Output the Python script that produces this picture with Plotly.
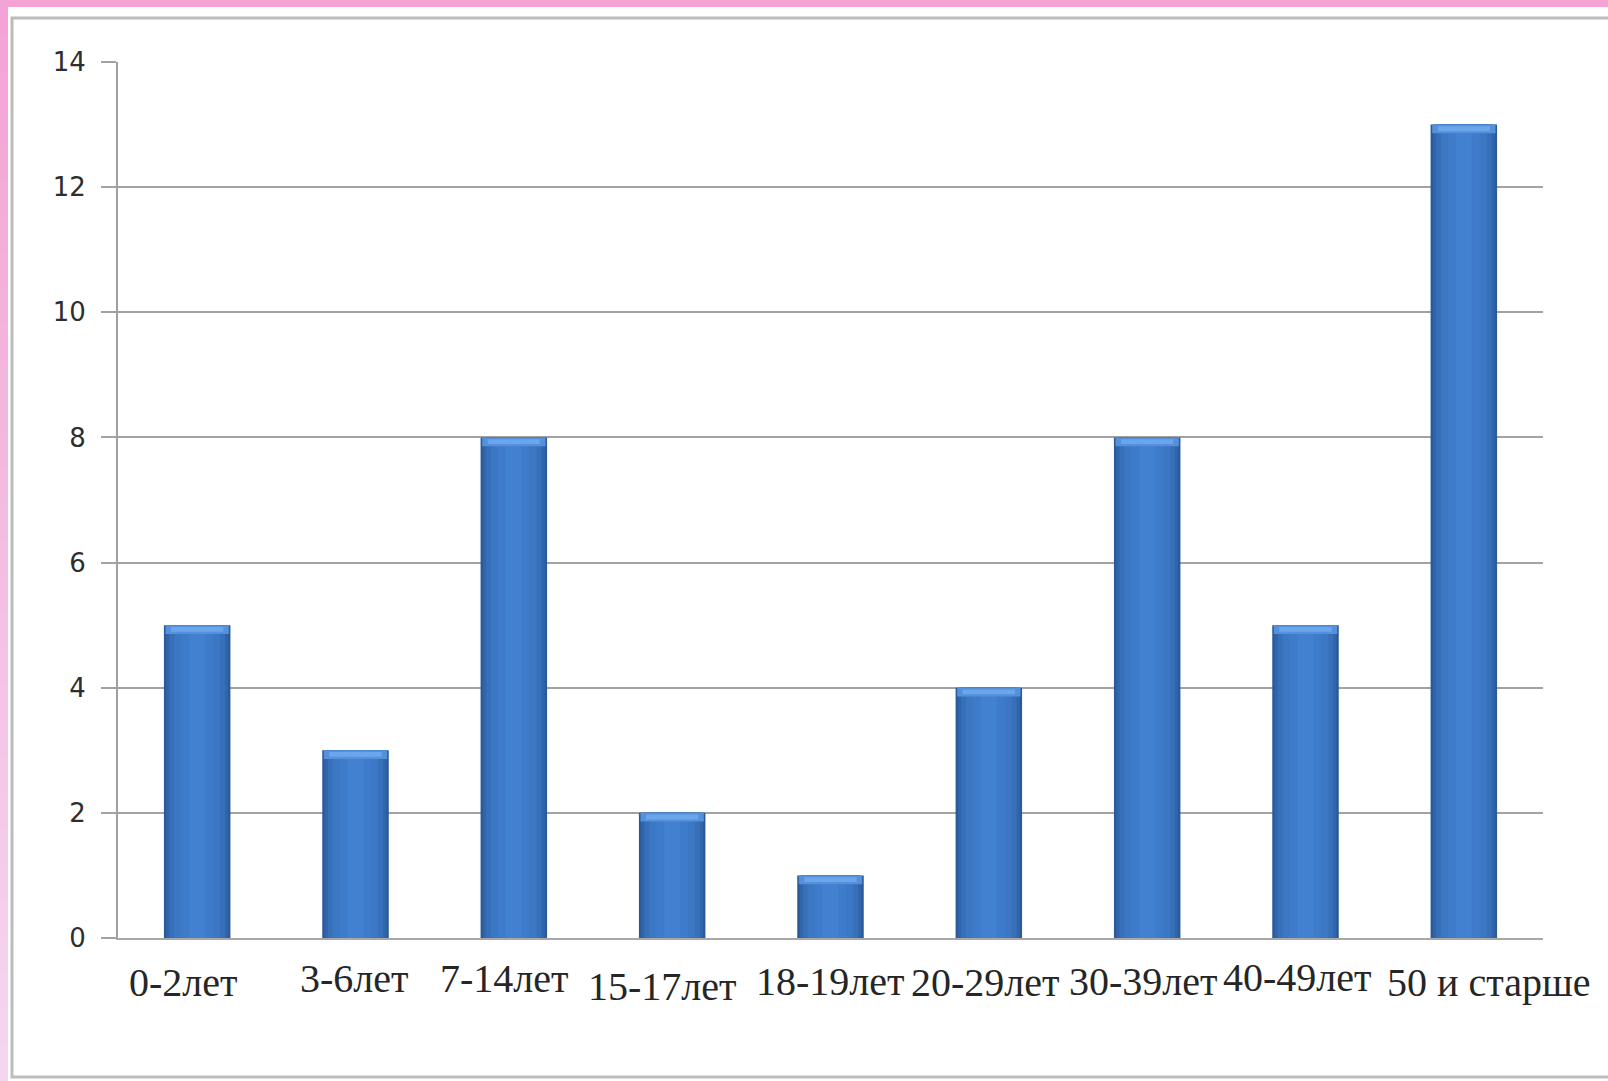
import plotly.graph_objects as go

# Age groups and counts
categories = ["0-2лет", "3-6лет", "7-14лет", "15-17лет", "18-19лет",
              "20-29лет", "30-39лет", "40-49лет", "50 и старше"]
counts = [5, 3, 8, 2, 1, 4, 8, 5, 13]
y_ticks = [0, 2, 4, 6, 8, 10, 12, 14]

W, H = 1608, 1081
ML, MR, MT, MB = 118, 65, 62, 143
PW, PH = W - ML - MR, H - MT - MB


def px_x(px):
    return (px - ML) / PW


def px_y(py):
    return (H - MB - py) / PH


fig = go.Figure()

# Cylinder-like shading: overlaid bars of decreasing width, lighter toward the centre
shades = [(0.42, "#2b5a9a"), (0.39, "#3165ab"), (0.35, "#3770b9"),
          (0.29, "#3b77c3"), (0.20, "#3e7ccb"), (0.10, "#4281d0")]
for w, c in shades:
    fig.add_trace(go.Bar(x=categories, y=counts, width=[w] * len(counts),
                         marker=dict(color=c, line=dict(width=0)),
                         hoverinfo="skip", showlegend=False))

# Light bevel along the top of each bar
cap = 0.14
fig.add_trace(go.Bar(x=categories, y=[cap] * len(counts),
                     base=[v - cap for v in counts], width=[0.40] * len(counts),
                     marker=dict(color="#5590da", line=dict(width=0)),
                     hoverinfo="skip", showlegend=False))
fig.add_trace(go.Bar(x=categories, y=[cap * 0.55] * len(counts),
                     base=[v - cap * 0.75 for v in counts], width=[0.33] * len(counts),
                     marker=dict(color="#6ba6ec", line=dict(width=0)),
                     hoverinfo="skip", showlegend=False))

shapes = []
# Pink page border: top strip and left strip fading downward
shapes.append(dict(type="rect", xref="paper", yref="paper",
                   x0=px_x(0), x1=px_x(W), y0=px_y(0), y1=px_y(7),
                   fillcolor="#f5a2d4", line=dict(width=0), layer="below"))
n = 30
c0 = (244, 163, 214)
c1 = (245, 214, 239)
for i in range(n):
    t = i / (n - 1)
    col = "rgb(%d,%d,%d)" % tuple(round(a + (b - a) * t) for a, b in zip(c0, c1))
    y0 = H * i / n
    y1 = H * (i + 1) / n + 1
    shapes.append(dict(type="rect", xref="paper", yref="paper",
                       x0=px_x(0), x1=px_x(8), y0=px_y(y0), y1=px_y(y1),
                       fillcolor=col, line=dict(width=0), layer="below"))
# Chart frame
shapes.append(dict(type="rect", xref="paper", yref="paper",
                   x0=px_x(12), x1=px_x(W + 10), y0=px_y(18), y1=px_y(1077),
                   fillcolor="rgba(0,0,0,0)", line=dict(color="#bcbcbc", width=3),
                   layer="below"))

# Category labels under the axis, each nudged slightly as laid out on the slide
label_dx = [-14, -1, -9, -10, 0, -3, -4, -8, 25]
label_cy = [982, 979, 979, 986, 981, 982, 981, 977, 982]
annotations = [
    dict(x=cat, xref="x", y=px_y(cy), yref="paper", text=cat, showarrow=False,
         xshift=dx, xanchor="center", yanchor="middle",
         font=dict(family="Liberation Serif", size=40, color="#262626"))
    for cat, dx, cy in zip(categories, label_dx, label_cy)
]

fig.update_layout(
    width=W, height=H,
    margin=dict(l=ML, r=MR, t=MT, b=MB),
    paper_bgcolor="white", plot_bgcolor="white",
    barmode="overlay",
    shapes=shapes,
    annotations=annotations,
    xaxis=dict(
        range=[-0.5, len(categories) - 0.5],
        showticklabels=False,
        showline=True, linecolor="#a8a8a8", linewidth=2,
        showgrid=False, ticks="",
    ),
    yaxis=dict(
        range=[0, 14], tickvals=y_ticks,
        tickfont=dict(family="DejaVu Sans", size=26, color="#2e2e2e"),
        showgrid=True, gridcolor="#a2a2a2", gridwidth=2,
        showline=True, linecolor="#a0a0a0", linewidth=2,
        ticks="outside", ticklen=15, tickcolor="#a2a2a2", tickwidth=2,
        ticklabelstandoff=10,
        zeroline=False,
    ),
)

fig.write_html("out.html")
